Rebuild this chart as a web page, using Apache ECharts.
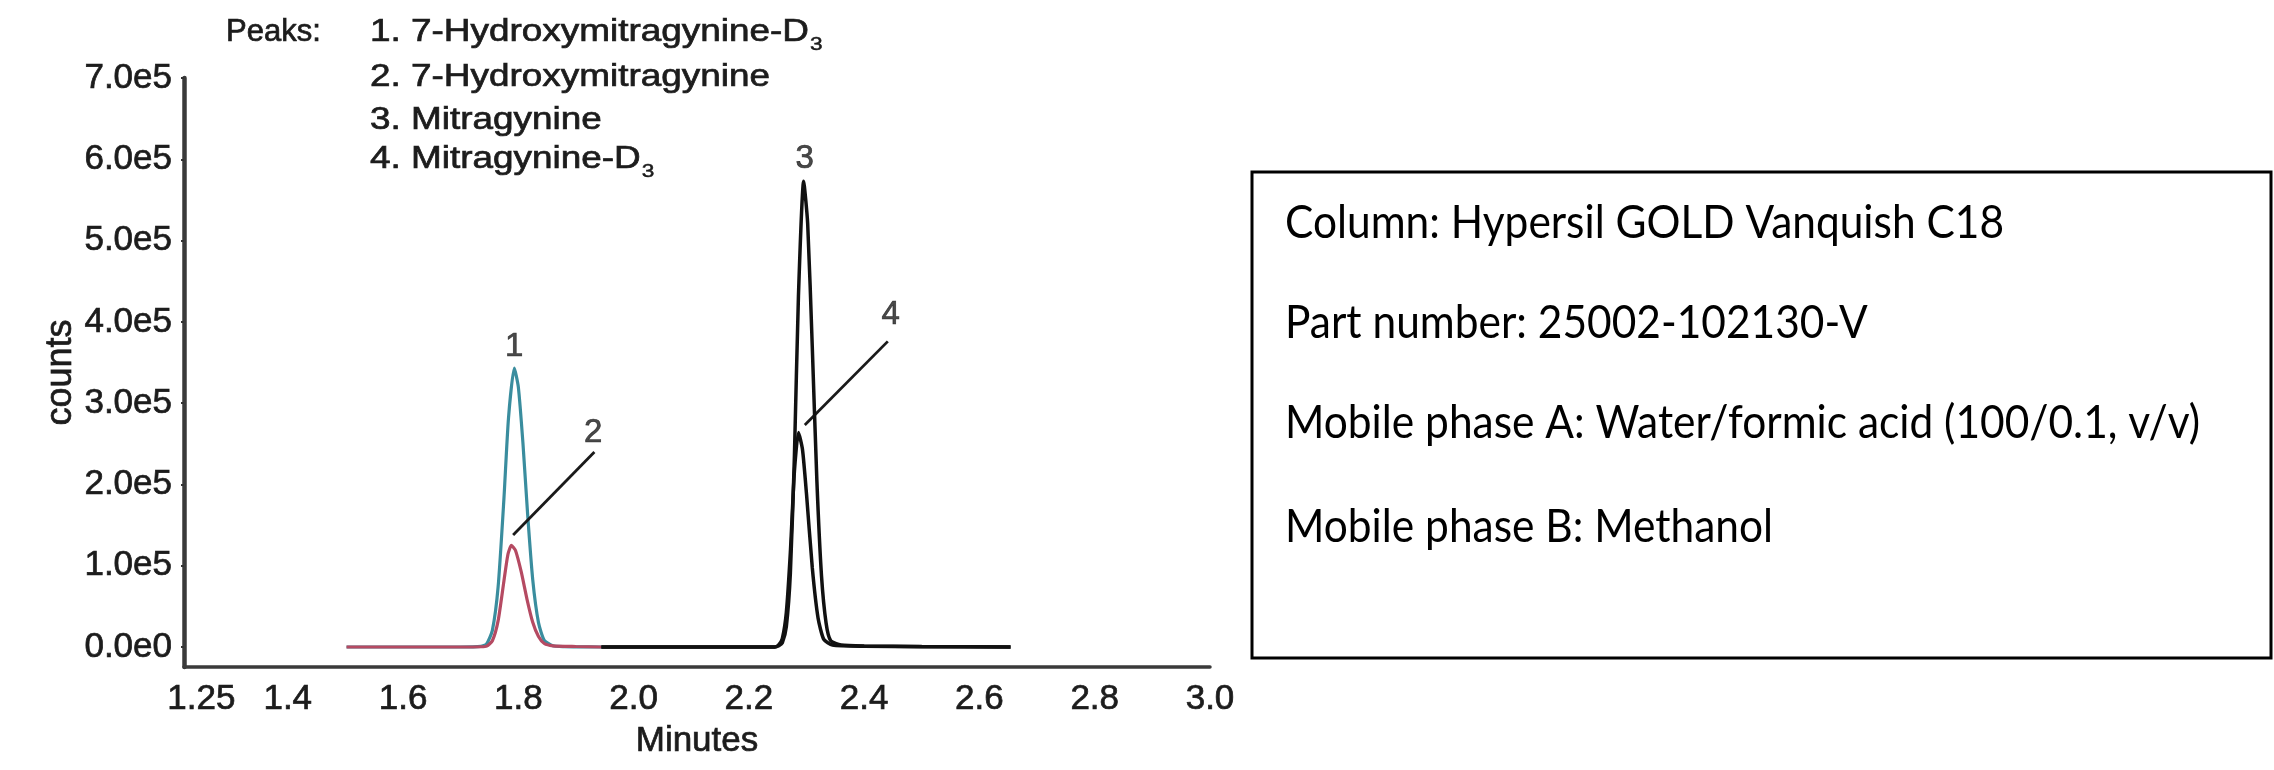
<!DOCTYPE html>
<html><head><meta charset="utf-8">
<script src="https://cdn.jsdelivr.net/npm/echarts@6/dist/echarts.min.js"></script>
<style>html,body{margin:0;padding:0;background:#fff}#c{width:2274px;height:770px}</style>
</head><body><div id="c"></div>
<script>
// ---- axis ticks ----
const xTickValues = [1.25, 1.4, 1.6, 1.8, 2.0, 2.2, 2.4, 2.6, 2.8, 3.0];
const xTickLabels = ['1.25', '1.4', '1.6', '1.8', '2.0', '2.2', '2.4', '2.6', '2.8', '3.0'];
const yTickValues = [0, 100000, 200000, 300000, 400000, 500000, 600000, 700000];
const yTickLabels = ['0.0e0', '1.0e5', '2.0e5', '3.0e5', '4.0e5', '5.0e5', '6.0e5', '7.0e5'];

// ---- series (minutes, counts) ----
const peak1Time   = [1.502, 1.60, 1.70, 1.735, 1.745, 1.755, 1.765, 1.775, 1.783, 1.793, 1.800, 1.808, 1.816, 1.825, 1.835, 1.845, 1.86, 1.88, 1.91, 1.944];
const peak1Counts = [0, 0, 0, 800, 3800, 20400, 74200, 182000, 282000, 343000, 320000, 251000, 165000, 83000, 30000, 8200, 1500, 500, 200, 0];

const peak2Time   = [1.502, 1.60, 1.70, 1.735, 1.745, 1.755, 1.765, 1.775, 1.782, 1.788, 1.795, 1.805, 1.815, 1.825, 1.835, 1.845, 1.86, 1.90, 1.944];
const peak2Counts = [0, 0, 0, 300, 1100, 7700, 32400, 81000, 114000, 125000, 119000, 92600, 59000, 30400, 12800, 4300, 1500, 600, 0];

const peak3Time   = [1.944, 2.05, 2.15, 2.245, 2.252, 2.258, 2.265, 2.272, 2.279, 2.286, 2.295, 2.302, 2.31, 2.318, 2.326, 2.334, 2.342, 2.36, 2.40, 2.50, 2.654];
const peak3Counts = [0, 0, 0, 0, 1500, 5000, 25200, 91000, 235000, 432000, 573000, 521000, 369000, 204000, 87500, 29300, 7700, 2500, 1200, 500, 0];

const peak4Time   = [1.944, 2.05, 2.15, 2.245, 2.252, 2.258, 2.265, 2.272, 2.279, 2.286, 2.293, 2.30, 2.31, 2.32, 2.33, 2.345, 2.40, 2.50, 2.654];
const peak4Counts = [0, 0, 0, 0, 3000, 10300, 42700, 117000, 216000, 264000, 243000, 188000, 97600, 35700, 9300, 2500, 1000, 400, 0];

// ---- peak annotations (data coordinates) ----
const peakTagText  = ['1', '2', '3', '4'];
const peakTagTime  = [1.793, 1.930, 2.297, 2.446];
const peakTagCount = [369000, 263000, 600000, 408000];
const leaderFrom = [[1.791, 137800], [2.297, 273000]];
const leaderTo   = [[1.932, 240000], [2.441, 376000]];

// ---- texts ----
const legendTitle = 'Peaks:';
const legendRows = ['1. 7-Hydroxymitragynine-D', '2. 7-Hydroxymitragynine', '3. Mitragynine', '4. Mitragynine-D'];
const legendSubs = ['3', '', '', '3'];
const boxLines = [
  'Column: Hypersil GOLD Vanquish C18',
  'Part number: 25002-102130-V',
  'Mobile phase A: Water/formic acid (100/0.1, v/v)',
  'Mobile phase B: Methanol'
];

function pairs(t, v) { return t.map((x, i) => [x, v[i]]); }

const ctx = document.createElement('canvas').getContext('2d');
function measure(text, font) { ctx.font = font; return ctx.measureText(text).width; }

const TXT = '#1c1c1c';
const HEAVY = { textBorderColor: '#1c1c1c', textBorderWidth: 0.7 };
const legendFont = '31px "Liberation Sans"';
const legendScale = 400 / measure(legendRows[1], legendFont);
const legendY = [32, 77, 120, 159];
const legendX = 370;

const boxFont = '46px Lato';
const boxScale = 915 / measure(boxLines[2], boxFont);
const boxY = [223, 323, 423, 527];

const graphics = [];
graphics.push({
  type: 'text', x: 226, y: legendY[0], scaleX: 1.0,
  style: Object.assign({ text: legendTitle, font: legendFont, fill: TXT, align: 'left', verticalAlign: 'middle' }, { stroke: TXT, lineWidth: 0.7 })
});
legendRows.forEach((r, i) => {
  graphics.push({
    type: 'text', x: legendX, y: legendY[i], scaleX: legendScale,
    style: { text: r, font: legendFont, fill: TXT, align: 'left', verticalAlign: 'middle', stroke: TXT, lineWidth: 0.7 }
  });
  if (legendSubs[i]) {
    graphics.push({
      type: 'text', x: legendX + legendScale * measure(r, legendFont) + 1, y: legendY[i] + 13, scaleX: legendScale,
      style: { text: legendSubs[i], font: '19px "Liberation Sans"', fill: TXT, align: 'left', verticalAlign: 'middle', stroke: TXT, lineWidth: 0.5 }
    });
  }
});
graphics.push({
  type: 'rect', shape: { x: 1252, y: 172, width: 1019, height: 486 },
  style: { fill: '#fff', stroke: '#000', lineWidth: 3 }
});
boxLines.forEach((t, i) => {
  graphics.push({
    type: 'text', x: 1285, y: boxY[i], scaleX: boxScale,
    style: { text: t, font: boxFont, fill: '#000', align: 'left', verticalAlign: 'middle' }
  });
});

const lineBase = { type: 'line', showSymbol: false, smooth: 0.2, silent: true, animation: false };

const option = {
  animation: false,
  backgroundColor: '#fff',
  grid: { left: 184, right: 1064, top: 78, bottom: 103, containLabel: false },
  xAxis: {
    type: 'value', min: 1.22, max: 3.0,
    name: 'Minutes', nameLocation: 'middle', nameGap: 57,
    nameTextStyle: Object.assign({ fontFamily: 'Liberation Sans', fontSize: 35, color: TXT }, HEAVY),
    axisLine: { onZero: false, lineStyle: { color: '#3a3a3a', width: 3.5 } },
    axisTick: { show: false },
    splitLine: { show: false },
    axisLabel: Object.assign({
      customValues: xTickValues, margin: 15,
      fontFamily: 'Liberation Sans', fontSize: 35, color: TXT,
      formatter: v => { const i = xTickValues.findIndex(x => Math.abs(x - v) < 1e-6); return i >= 0 ? xTickLabels[i] : ''; }
    }, HEAVY)
  },
  yAxis: {
    type: 'value', min: -24600, max: 700000,
    name: 'counts', nameLocation: 'middle', nameGap: 105,
    nameTextStyle: Object.assign({ fontFamily: 'Liberation Sans', fontSize: 36, color: TXT }, HEAVY),
    axisLine: { show: true, lineStyle: { color: '#3a3a3a', width: 4.5 } },
    axisTick: { show: true, customValues: yTickValues, length: 3, lineStyle: { color: '#333', width: 2 } },
    splitLine: { show: false },
    axisLabel: Object.assign({
      customValues: yTickValues, margin: 12,
      fontFamily: 'Liberation Sans', fontSize: 35, color: TXT,
      formatter: v => { const i = yTickValues.findIndex(x => Math.abs(x - v) < 1e-3); return i >= 0 ? yTickLabels[i] : ''; }
    }, HEAVY)
  },
  graphic: graphics,
  series: [
    Object.assign({}, lineBase, { name: '7-Hydroxymitragynine-D3', data: pairs(peak1Time, peak1Counts), lineStyle: { color: '#3a8d9e', width: 3.2 }, z: 2 }),
    Object.assign({}, lineBase, { name: '7-Hydroxymitragynine', data: pairs(peak2Time, peak2Counts), lineStyle: { color: '#b54a62', width: 3.2 }, z: 3 }),
    Object.assign({}, lineBase, { name: 'Mitragynine-D3', data: pairs(peak4Time, peak4Counts), lineStyle: { color: '#111', width: 3.5 }, z: 4 }),
    Object.assign({}, lineBase, {
      name: 'Mitragynine', data: pairs(peak3Time, peak3Counts), lineStyle: { color: '#111', width: 3.5 }, z: 5,
      markLine: {
        silent: true, symbol: ['none', 'none'], label: { show: false },
        lineStyle: { color: '#1a1a1a', width: 2.8, type: 'solid' },
        data: leaderFrom.map((f, i) => [{ coord: f }, { coord: leaderTo[i] }])
      }
    }),
    {
      type: 'scatter', silent: true, symbolSize: 0, z: 6,
      data: peakTagTime.map((t, i) => ({ value: [t, peakTagCount[i]], name: peakTagText[i] })),
      label: Object.assign({
        show: true, position: 'inside', formatter: p => p.name,
        fontFamily: 'Liberation Sans', fontSize: 33, color: TXT
      }, HEAVY)
    }
  ]
};

const chart = echarts.init(document.getElementById('c'), null, { renderer: 'canvas' });
chart.setOption(option);
</script>
</body></html>
